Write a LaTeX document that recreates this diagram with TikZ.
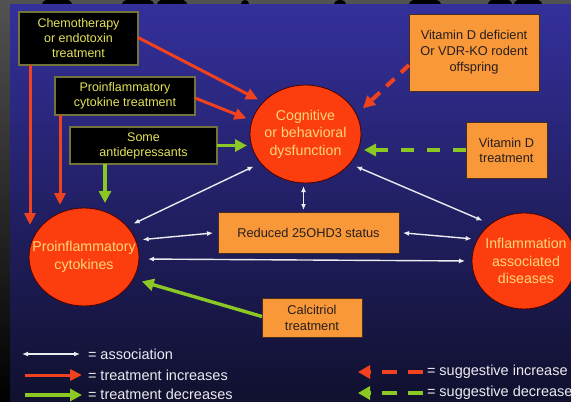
\documentclass[tikz,border=0pt]{standalone}
\usepackage{fontspec}
\setmainfont{Liberation Sans}
\usetikzlibrary{arrows.meta,shapes.geometric,calc}
\definecolor{bgtop}{RGB}{52,48,156}
\definecolor{bgmid}{RGB}{36,34,112}
\definecolor{bgbot}{RGB}{16,16,46}
\definecolor{stripgray}{RGB}{82,82,82}
\definecolor{boxedge}{RGB}{115,115,60}
\definecolor{boxtext}{RGB}{228,226,90}
\definecolor{boxorange}{RGB}{248,152,56}
\definecolor{orangeedge}{RGB}{70,45,30}
\definecolor{orangetext}{RGB}{40,30,30}
\definecolor{bubblered}{RGB}{252,62,14}
\definecolor{bubbletext}{RGB}{255,214,120}
\definecolor{arrred}{RGB}{240,66,30}
\definecolor{arrgreen}{RGB}{140,200,35}
\definecolor{arrwhite}{RGB}{235,235,240}
\begin{document}
\begin{tikzpicture}[x=1pt,y=-1pt,
  blackbox/.style={draw=boxedge, fill=black, text=boxtext, line width=1.4pt, align=center,
    inner sep=0pt, outer sep=0pt, font=\fontsize{12.5}{15}\selectfont},
  orangebox/.style={draw=orangeedge, fill=boxorange, text=orangetext, line width=0.8pt, align=center,
    inner sep=0pt, outer sep=0pt, font=\fontsize{12.8}{16}\selectfont},
  bubble/.style={ellipse, draw=black!70!red, fill=bubblered, line width=0.8pt, inner sep=0pt, outer sep=0pt},
  bubbletxt/.style={text=bubbletext, align=center, font=\fontsize{14.2}{17.5}\selectfont},
  legtext/.style={anchor=west, text=arrwhite, inner sep=0pt, outer sep=0pt, font=\fontsize{14.5}{17}\selectfont},
  redarrow/.style={draw=arrred, line width=3pt, -{Triangle[length=12pt,width=11pt]}},
  greenarrow/.style={draw=arrgreen, line width=3.4pt, -{Triangle[length=12pt,width=12pt]}},
  assoc/.style={draw=arrwhite, line width=1.4pt, {Latex[length=6pt,width=5pt]}-{Latex[length=6pt,width=5pt]}},
  sugred/.style={draw=arrred, line width=4pt, dash pattern=on 11pt off 9pt, -{Triangle[length=12pt,width=12pt]}},
  suggreen/.style={draw=arrgreen, line width=4pt, dash pattern=on 13pt off 13pt, -{Triangle[length=12pt,width=12pt]}},
  legsugred/.style={draw=arrred, line width=4pt, dash pattern=on 15pt off 11pt, -{Triangle[length=12pt,width=13pt]}},
  legsuggreen/.style={draw=arrgreen, line width=4pt, dash pattern=on 15pt off 11pt, -{Triangle[length=12pt,width=13pt]}}
]
\useasboundingbox (0,0) rectangle (571,402);
\clip (0,0) rectangle (571,402);
% surroundings
\fill[stripgray] (0,0) rectangle (571,402);
\shade[top color=stripgray, bottom color=black] (0,0) rectangle (10,402);
\fill[black] (57,4) ellipse (15pt and 6pt);
\fill[black] (138,4) ellipse (16pt and 6pt);
\fill[black] (172,4) ellipse (15pt and 6pt);
\fill[black] (245,4) ellipse (4pt and 4pt);
\fill[black] (340,4) ellipse (6pt and 4pt);
\fill[black] (425,4) ellipse (16pt and 6pt);
\fill[black] (500,4) ellipse (12pt and 6pt);
\fill[black] (528,4) ellipse (14pt and 6pt);
% slide
\shade[top color=bgtop, middle color=bgmid, bottom color=bgbot] (10,4) rectangle (571,402);

% nodes
\node[blackbox, minimum width=119pt, minimum height=53pt] (chemo) at (78.5,38.5) {Chemotherapy\\or endotoxin\\treatment};
\node[blackbox, minimum width=140pt, minimum height=38pt] (pct) at (125,96) {Proinflammatory\\cytokine treatment};
\node[blackbox, minimum width=147pt, minimum height=37pt] (ad) at (143.5,145.5) {Some\\antidepressants};

\node[bubble, minimum width=111pt, minimum height=98pt] (cog) at (305.5,134) {};
\node[bubbletxt] (cogt) at (cog) {Cognitive\\or behavioral\\dysfunction};
\node[bubble, minimum width=110pt, minimum height=98pt] (pic) at (84,257) {};
\node[bubbletxt] (pict) at (pic) {Proinflammatory\\cytokines};
\node[bubble, minimum width=104pt, minimum height=96pt] (infl) at (524,261) {};
\node[bubbletxt] (inflt) at (526,261) {Inflammation\\associated\\diseases};

\node[orangebox, minimum width=130pt, minimum height=77pt] (def) at (474,52.5) {Vitamin D deficient\\Or VDR-KO rodent\\offspring};
\node[orangebox, minimum width=81pt, minimum height=56pt, font=\fontsize{12.8}{15}\selectfont] (vdt) at (506.5,150) {Vitamin D\\treatment};
\node[orangebox, minimum width=181pt, minimum height=41pt] (red) at (308.5,232.5) {Reduced 25OHD3 status};
\node[orangebox, minimum width=100pt, minimum height=39pt] (calc) at (312,317.5) {Calcitriol\\treatment};

% treatment arrows
\draw[redarrow, shorten >=6pt] ([yshift=1pt]chemo.east) -- (cog.143);
\draw[redarrow, shorten >=6pt] ([yshift=-2pt]pct.east) -- (cog.166);
\draw[greenarrow, shorten >=3pt] (ad.east) -- (ad.east -| cog.west);
\coordinate (chemoend) at (30,225);
\draw[redarrow] ([xshift=11pt]chemo.south west) -- (chemoend);
\draw[redarrow, shorten >=3pt] ([xshift=5pt]pct.south west) -- ([xshift=5pt]pct.south west |- pic.north);
\draw[greenarrow, shorten >=5pt] ([xshift=35pt]ad.south west) -- ([xshift=35pt]ad.south west |- pic.north);
\draw[greenarrow, shorten >=9pt] ([yshift=1pt]calc.west) -- (pic.-24);

% suggestive arrows
\draw[sugred, shorten >=9pt] ([yshift=-12.5pt]def.west) -- (cog.21);
\draw[suggreen, shorten >=3pt] (vdt.west) -- (vdt.west -| cog.east);

% associations
\draw[assoc, shorten <=7pt, shorten >=8pt] (pic.35) -- (cog.213);
\draw[assoc, shorten <=3pt, shorten >=2pt] ([xshift=-2pt]cog.south) -- ([xshift=-2pt]cog.south |- red.north);
\draw[assoc, shorten <=7pt, shorten >=9pt] (cog.326) -- (infl.132);
\draw[assoc, shorten <=7pt, shorten >=5pt] (pic.18) -- (red.west);
\draw[assoc, shorten <=4pt, shorten >=6pt] (red.east) -- (infl.155);
\draw[assoc, shorten <=9pt, shorten >=7pt] ([yshift=-2pt]pic.east) -- (infl.west);

% legend
\node[legtext] (l1) at (88,354) {= association};
\node[legtext] (l2) at (88,375) {= treatment increases};
\node[legtext] (l3) at (88,394.5) {= treatment decreases};
\coordinate (l1s) at (22,354);
\coordinate (l2s) at (25,375);
\coordinate (l3s) at (25,395);
\draw[assoc, shorten >=8pt] (l1s) -- (l1.west);
\draw[redarrow, shorten >=6pt] (l2s) -- (l2.west);
\draw[greenarrow, shorten >=6pt] (l3s) -- ([yshift=-0.5pt]l3.west);

\node[legtext] (l4) at (427,372) {= suggestive increase};
\node[legtext] (l5) at (427,393) {= suggestive decrease};
\coordinate (l4e) at (358,372);
\coordinate (l5e) at (358,393);
\draw[legsugred, shorten <=4pt] (l4.west) -- (l4e);
\draw[legsuggreen, shorten <=4pt] (l5.west) -- (l5e);
\end{tikzpicture}
\end{document}
